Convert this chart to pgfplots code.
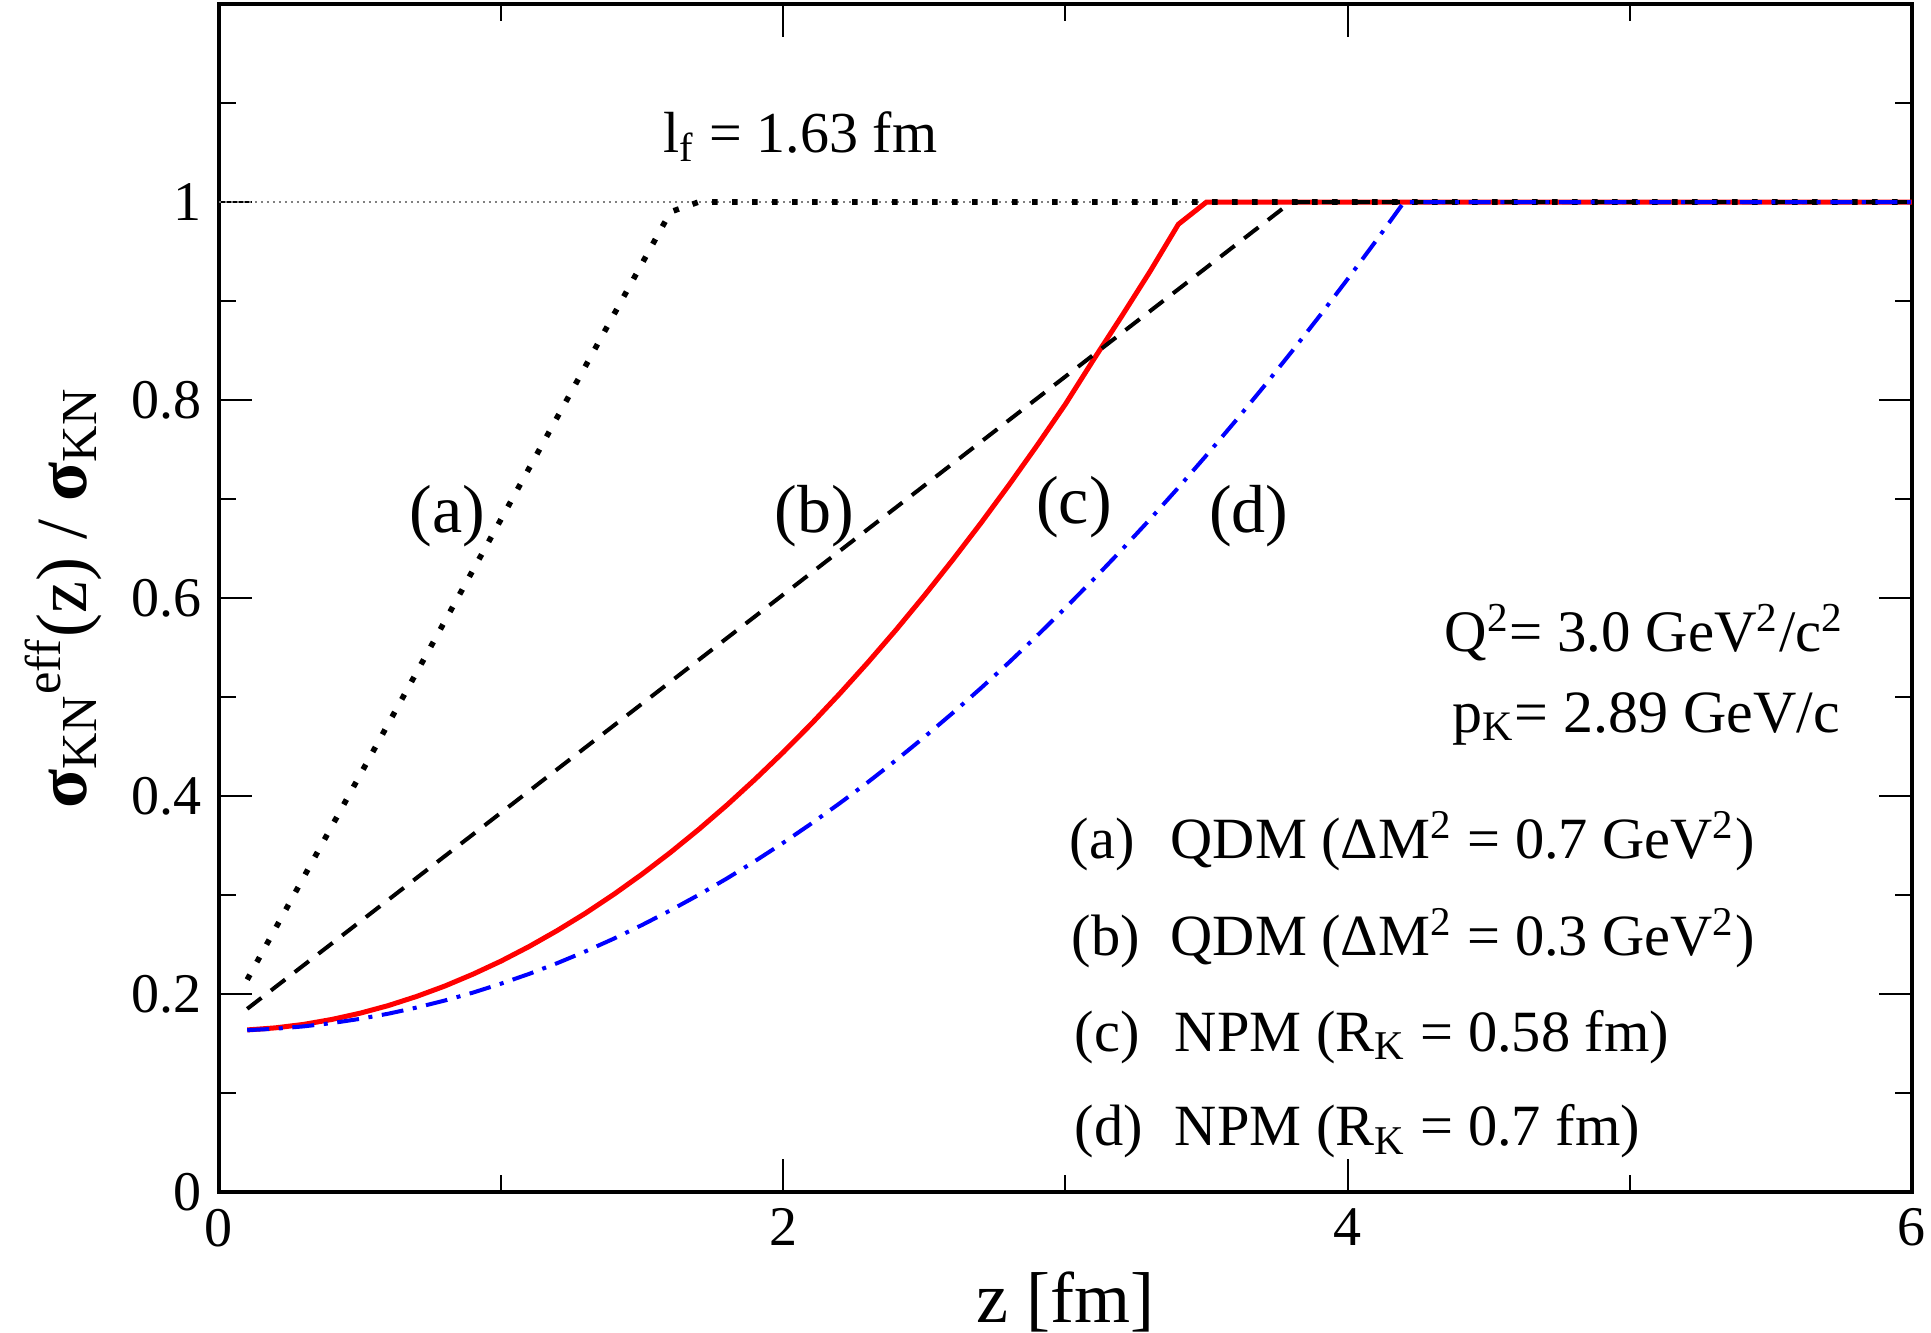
\documentclass[border=0pt]{standalone}
\usepackage{fontspec}
\setmainfont{Liberation Serif}
\usepackage{pgfplots}
\pgfplotsset{compat=1.18}

\begin{document}
\begin{tikzpicture}
\begin{axis}[
  at={(0,0)}, anchor=south west,
  scale only axis,
  width=423.25pt, height=297pt,
  xmin=0, xmax=6, ymin=0, ymax=1.2,
  xtick={0,2,4,6}, xticklabels={0,2,4,6},
  minor xtick={1,3,5},
  ytick={0,0.2,0.4,0.6,0.8,1}, yticklabels={0,0.2,0.4,0.6,0.8,1},
  minor ytick={0.1,0.3,0.5,0.7,0.9,1.1},
  tick align=inside,
  major tick length=8.25pt, minor tick length=4.25pt,
  tick style={black, line width=0.5pt},
  axis line style={line width=1pt},
  tick label style={font=\fontsize{14}{16}\selectfont},
  xticklabel style={inner sep=0pt, yshift=-4pt},
  yticklabel style={inner sep=0pt, xshift=-4.25pt},
  clip=false,
]
% thin reference line at 1
\addplot[gray, line width=0.35pt, dash pattern=on 0.5pt off 1pt] coordinates {(0,1) (6,1)};

% (c) NPM R_K = 0.58 fm
\addplot[red, line width=1.25pt] coordinates {
(0.1,0.1637) (0.2,0.1658) (0.3,0.1693) (0.4,0.1743) (0.5,0.1806)
(0.6,0.1883) (0.7,0.1975) (0.8,0.2080) (0.9,0.2200) (1.0,0.2333)
(1.1,0.2481) (1.2,0.2643) (1.3,0.2818) (1.4,0.3008) (1.5,0.3212)
(1.6,0.3430) (1.7,0.3662) (1.8,0.3908) (1.9,0.4169) (2.0,0.4443)
(2.1,0.4731) (2.2,0.5034) (2.3,0.5350) (2.4,0.5680) (2.5,0.6025)
(2.6,0.6384) (2.7,0.6756) (2.8,0.7143) (2.9,0.7544) (3.0,0.7959)
(3.1,0.8410) (3.2,0.8850) (3.3,0.9300) (3.4,0.9775) (3.5,1.0)
(6.0,1.0)};

% (a) QDM dM^2 = 0.7
\addplot[black, line width=1.4pt, line cap=butt, dash pattern=on 1.4pt off 3.6pt] coordinates {
(0.1,0.2145) (1.6,0.990) (1.7,1.0) (6.0,1.0)};

% (b) QDM dM^2 = 0.3
\addplot[black, line width=1pt, dash pattern=on 4.5pt off 3pt] coordinates {
(0.1,0.185) (3.8,1.0) (6.0,1.0)};

% (d) NPM R_K = 0.7 fm
\addplot[blue, line width=1pt, dash pattern=on 5.5pt off 2.4pt on 1pt off 2.4pt] coordinates {
(0.1,0.1635) (0.2,0.1649) (0.3,0.1673) (0.4,0.1706) (0.5,0.1749)
(0.6,0.1801) (0.7,0.1863) (0.8,0.1934) (0.9,0.2014) (1.0,0.2105)
(1.1,0.2204) (1.2,0.2313) (1.3,0.2432) (1.4,0.2560) (1.5,0.2698)
(1.6,0.2845) (1.7,0.3001) (1.8,0.3167) (1.9,0.3343) (2.0,0.3528)
(2.1,0.3723) (2.2,0.3927) (2.3,0.4140) (2.4,0.4363) (2.5,0.4596)
(2.6,0.4838) (2.7,0.5089) (2.8,0.5350) (2.9,0.5621) (3.0,0.5901)
(3.1,0.6190) (3.2,0.6489) (3.3,0.6797) (3.4,0.7115) (3.5,0.7443)
(3.6,0.7780) (3.7,0.8126) (3.8,0.8482) (3.9,0.8847) (4.0,0.9222)
(4.1,0.9606) (4.2,1.0) (6.0,1.0)};

% curve labels
\node[anchor=base, font=\fontsize{17}{20}\selectfont] at (axis cs:0.81,0.666) {(a)};
\node[anchor=base, font=\fontsize{17}{20}\selectfont] at (axis cs:2.11,0.666) {(b)};
\node[anchor=base, font=\fontsize{17}{20}\selectfont] at (axis cs:3.03,0.675) {(c)};
\node[anchor=base, font=\fontsize{17}{20}\selectfont] at (axis cs:3.65,0.666) {(d)};

% l_f
\node[anchor=base west, inner sep=0pt, font=\fontsize{14.5}{17}\selectfont] at (axis cs:1.573,1.0495) {l\textsubscript{f} = 1.63 fm};

% kinematics
\node[anchor=base east, inner sep=0pt, font=\fontsize{14.7}{18}\selectfont] at (axis cs:5.763,0.5455) {Q\textsuperscript{2}= 3.0 GeV\textsuperscript{2}/c\textsuperscript{2}};
\node[anchor=base east, inner sep=0pt, font=\fontsize{15}{18}\selectfont] at (axis cs:5.748,0.4646) {p\textsubscript{K}= 2.89 GeV/c};

% legend text
\node[anchor=base west, inner sep=0pt, font=\fontsize{14.6}{18}\selectfont] at (axis cs:3.012,0.3364) {(a)};
\node[anchor=base west, inner sep=0pt, font=\fontsize{14.6}{18}\selectfont] at (axis cs:3.37,0.3364) {QDM (ΔM\textsuperscript{2} = 0.7 GeV\textsuperscript{2})};
\node[anchor=base west, inner sep=0pt, font=\fontsize{14.6}{18}\selectfont] at (axis cs:3.02,0.2384) {(b)};
\node[anchor=base west, inner sep=0pt, font=\fontsize{14.6}{18}\selectfont] at (axis cs:3.37,0.2384) {QDM (ΔM\textsuperscript{2} = 0.3 GeV\textsuperscript{2})};
\node[anchor=base west, inner sep=0pt, font=\fontsize{14.6}{18}\selectfont] at (axis cs:3.03,0.1424) {(c)};
\node[anchor=base west, inner sep=0pt, font=\fontsize{14.6}{18}\selectfont] at (axis cs:3.385,0.1424) {NPM (R\textsubscript{K} = 0.58 fm)};
\node[anchor=base west, inner sep=0pt, font=\fontsize{14.6}{18}\selectfont] at (axis cs:3.03,0.0465) {(d)};
\node[anchor=base west, inner sep=0pt, font=\fontsize{14.6}{18}\selectfont] at (axis cs:3.385,0.0465) {NPM (R\textsubscript{K} = 0.7 fm)};
\end{axis}

% axis labels
\node[rotate=90, anchor=base, inner sep=0pt, font=\fontsize{18}{21}\selectfont] at (-33.25pt,148.5pt)
  {\textbf{σ}\textsubscript{KN}\textsuperscript{eff}(z) / \textbf{σ}\textsubscript{KN}};
\node[anchor=base, inner sep=0pt, font=\fontsize{18}{21}\selectfont] at (211.6pt,-32.5pt) {z [fm]};

\pgfresetboundingbox
\path[use as bounding box] (-54.75pt,-35pt) rectangle (428pt,298pt);
\end{tikzpicture}
\end{document}
